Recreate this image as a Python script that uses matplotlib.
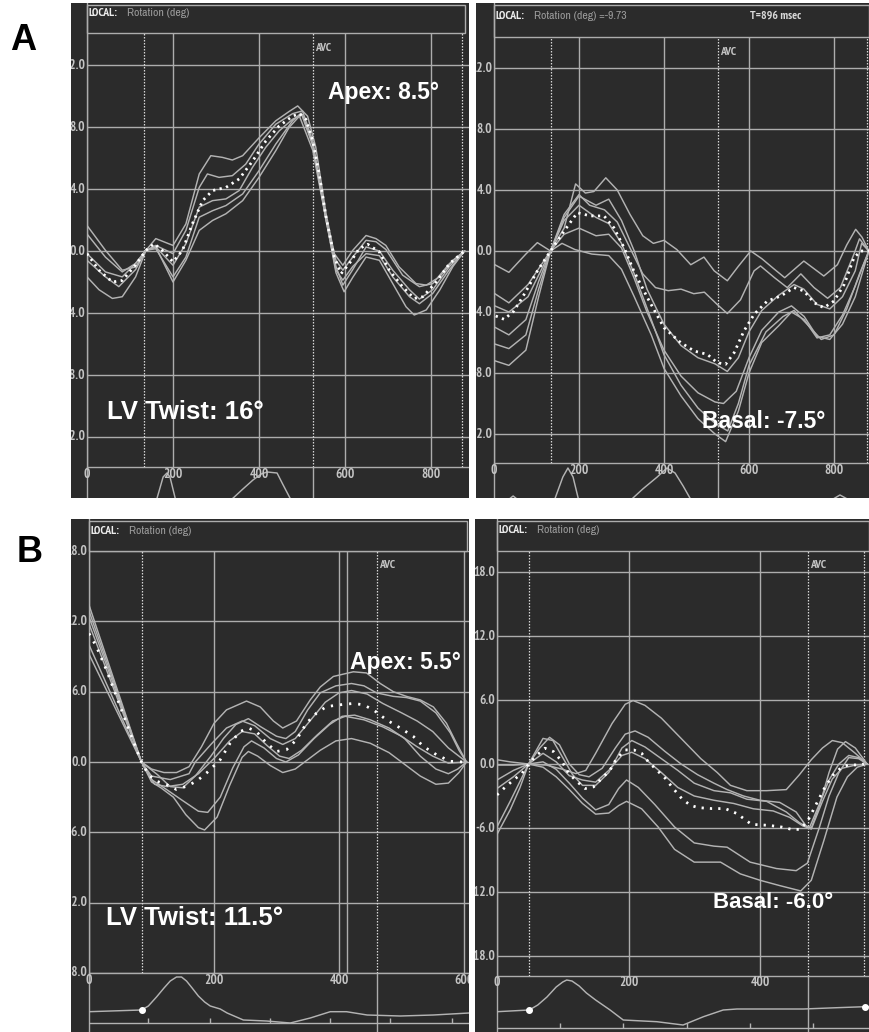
import os
import matplotlib
matplotlib.use("Agg")
import matplotlib.pyplot as plt
import matplotlib.transforms as mtransforms
from matplotlib import font_manager as fm
from matplotlib.font_manager import FontProperties
from matplotlib.patches import Rectangle

# ======================= DATA =======================
# ---- Panel A, left: apical rotation (deg) vs time (ms) ----
a1_avg_t = [0, 28, 59, 82, 113, 137, 156, 175, 200, 222, 245, 269, 292, 323, 354, 385, 416, 447, 478, 494,
            509, 525, 540, 556, 575, 591, 610, 633, 653, 680, 703, 734, 761, 781, 812, 843, 878]
a1_avg_v = [-0.17, -1.24, -2.0, -1.9, -0.9, 0.04, 0.47, 0.04, -0.7, 0.04, 1.75, 3.25, 3.9, 4.1, 4.65, 5.8, 7.1, 8.07, 8.7, 8.86,
            8.5, 7.1, 4.97, 2.18, -0.39, -1.46, -0.81, 0.15, 0.43, -0.06, -1.24, -2.31, -3.06, -2.95, -2.0, -0.81, 0]
a1_s1_t = [0, 43, 82, 113, 137, 160, 200, 230, 261, 288, 315, 338, 362, 400, 439, 470, 490, 513, 532, 556,
           575, 595, 618, 649, 672, 695, 726, 765, 789, 820, 851, 878]
a1_s1_v = [1.65, 0.04, -1.24, -1.03, 0.04, 0.8, 0.36, 1.75, 4.97, 6.15, 6.04, 5.87, 6.15, 7.3, 8.4, 9.0, 9.36, 8.7, 6.7, 2.4,
           -0.17, -0.92, 0.04, 1.0, 0.8, 0.36, -1.03, -2.1, -2.2, -1.67, -0.6, 0]
a1_s2_t = [0, 43, 82, 113, 137, 160, 200, 230, 261, 280, 307, 338, 369, 400, 439, 478, 501, 525, 556, 579,
           595, 618, 649, 672, 695, 734, 773, 804, 843, 878]
a1_s2_v = [1.1, -0.4, -1.35, -0.8, 0.04, 0.36, -0.17, 1.33, 4.1, 4.97, 4.75, 4.86, 5.6, 6.9, 8.18, 8.86, 9.04, 7.1, 2.0, -0.6,
           -1.24, -0.39, 0.69, 0.6, 0.1, -1.56, -2.3, -2.1, -0.81, 0]
a1_s3_t = [0, 43, 82, 113, 137, 160, 200, 230, 261, 292, 323, 354, 385, 416, 447, 478, 501, 525, 556, 579,
           595, 618, 649, 680, 711, 750, 773, 804, 843, 878]
a1_s3_v = [-0.17, -1.35, -1.67, -0.8, 0.04, 0.26, -0.92, 0.47, 2.83, 3.25, 3.36, 3.9, 5.4, 6.7, 7.75, 8.5, 8.8, 6.9, 2.0, -1.24,
           -1.88, -1.0, -0.17, -0.3, -1.67, -2.95, -3.4, -2.74, -1.2, 0]
a1_s4_t = [0, 28, 59, 82, 113, 137, 160, 200, 230, 261, 292, 323, 362, 400, 439, 470, 494, 525, 556, 579,
           598, 618, 649, 680, 711, 742, 761, 789, 820, 851, 878]
a1_s4_v = [-1.67, -2.5, -3.06, -2.95, -1.67, 0.04, 0.26, -2.0, -0.6, 1.33, 1.97, 2.4, 3.25, 4.75, 6.47, 7.97, 8.7, 6.5, 2.0, -1.4,
           -2.63, -1.7, -0.39, -0.6, -2.1, -3.6, -4.13, -3.8, -2.53, -1.0, 0]
a1_s5_t = [0, 43, 74, 113, 137, 160, 200, 230, 261, 292, 323, 362, 400, 439, 478, 498, 525, 556, 579, 595,
           618, 649, 680, 711, 750, 773, 804, 843, 878]
a1_s5_v = [-0.6, -1.67, -2.3, -1.2, 0.04, 0.15, -1.67, -0.39, 2.18, 2.6, 2.93, 3.68, 5.18, 6.9, 8.4, 8.9, 6.8, 2.1, -1.0, -2.2,
           -1.2, 0.26, 0.0, -1.24, -2.5, -3.1, -2.5, -1.0, 0]
a1_ecg_t = [0, 150, 163, 177, 186, 193, 205, 215, 300, 320, 340, 360, 386, 405, 419, 442, 455, 472, 490, 888]
a1_ecg_v = [-1, -1, 0, 2.1, 2.5, 2.1, 0, -1, -1, -0.6, 0, 0.8, 1.8, 2.4, 2.6, 2.5, 1.4, 0, -1, -1]
a1_events = [133, 525, 873]
a1_avc = 525

# ---- Panel A, right: basal rotation ----
a2_avg_t = [4, 24, 47, 71, 102, 133, 165, 196, 227, 259, 282, 306, 329, 361, 400, 439, 471, 502, 525, 545,
            565, 588, 612, 643, 675, 706, 729, 753, 776, 800, 824, 847, 863, 882]
a2_avg_v = [-4.26, -4.48, -3.93, -2.84, -1.31, 0, 1.31, 2.51, 2.3, 2.3, 1.53, 0.22, -1.31, -3.06, -5.03, -6.0, -6.56, -6.78, -7.32, -7.43,
            -6.67, -5.25, -4.15, -3.28, -2.95, -2.4, -2.62, -3.39, -3.72, -3.28, -2.19, -0.44, 0, 0]
a2_s1_t = [2, 35, 75, 102, 133, 165, 192, 215, 235, 263, 290, 320, 350, 375, 400, 430, 463, 494, 518, 549,
           575, 604, 630, 660, 684, 729, 776, 808, 830, 851, 866, 882]
a2_s1_v = [-0.9, -1.4, -0.2, 0.55, 0, 1.5, 4.4, 3.8, 3.9, 4.8, 4.0, 2.4, 1.0, 0.5, 0.7, 0.1, -0.9, -0.4, -1.3, -1.95,
           -1.0, 0, -0.5, -1.2, -1.75, -0.66, -1.64, -0.9, 0.4, 1.42, 0.9, 0]
a2_s2_t = [2, 35, 80, 133, 165, 200, 225, 260, 290, 320, 350, 380, 410, 440, 470, 495, 525, 549, 580, 612,
           627, 660, 690, 722, 753, 785, 815, 847, 860, 882]
a2_s2_v = [-2.8, -3.4, -2.2, 0, 2.4, 3.7, 3.0, 2.7, 1.9, 0.2, -1.5, -2.4, -2.6, -2.5, -2.8, -2.7, -3.5, -4.1, -3.2, -1.3,
           -0.98, -1.75, -2.4, -1.5, -2.4, -3.1, -2.4, -0.2, 0.8, 0]
a2_s3_t = [2, 35, 80, 133, 165, 200, 240, 270, 300, 330, 360, 400, 440, 480, 520, 549, 575, 600, 630, 670,
           706, 729, 760, 790, 820, 850, 865, 882]
a2_s3_v = [-3.6, -4.0, -3.0, 0, 2.2, 3.6, 3.0, 3.4, 2.0, 0, -2.5, -4.8, -6.2, -7.0, -7.4, -7.9, -7.0, -5.3, -3.9, -2.9,
           -2.2, -2.5, -3.5, -3.8, -3.0, -1.3, 0.5, 0]
a2_s4_t = [2, 35, 75, 105, 133, 165, 200, 240, 270, 300, 330, 360, 400, 440, 480, 520, 540, 570, 600, 630,
           670, 700, 730, 760, 790, 820, 850, 882]
a2_s4_v = [-6.1, -6.4, -5.5, -2.5, 0, 1.1, 1.5, 1.0, 1.1, 0.2, -1.8, -4.0, -6.5, -8.2, -9.3, -9.9, -10.0, -9.2, -7.0, -5.2,
           -4.0, -3.6, -4.3, -5.6, -5.8, -4.8, -3.0, 0]
a2_s5_t = [2, 35, 75, 105, 133, 160, 190, 230, 270, 300, 330, 370, 400, 440, 480, 520, 545, 575, 600, 630,
           670, 700, 730, 760, 790, 820, 850, 882]
a2_s5_v = [-7.2, -7.5, -6.5, -3.0, 0, 0.5, 0.1, -0.2, -0.3, -1.2, -3.0, -5.5, -7.7, -9.5, -11.0, -12.0, -12.5, -10.5, -8.0, -6.0,
           -4.9, -4.0, -4.5, -5.7, -5.5, -4.2, -2.3, 0]
a2_s6_t = [2, 35, 75, 105, 133, 165, 200, 240, 270, 300, 330, 370, 400, 440, 480, 520, 550, 575, 600, 640,
           680, 706, 740, 770, 800, 830, 860, 882]
a2_s6_v = [-5.0, -5.5, -4.5, -2.0, 0, 2.0, 3.0, 2.2, 1.8, 0.5, -1.5, -4.5, -6.8, -8.8, -10.3, -11.3, -11.8, -10.0, -7.5, -5.3,
           -4.3, -3.9, -4.9, -5.8, -5.5, -3.8, -1.5, 0]
a2_ecg_t = [0, 30, 45, 60, 130, 144, 162, 174, 186, 198, 215, 300, 327, 350, 384, 407, 426, 445, 461, 480, 790, 814, 840, 882]
a2_ecg_v = [-0.3, -0.3, 0.2, -0.3, -1, 0, 2.1, 3.0, 2.1, 0, -1, -1, 0, 0.9, 2.1, 3.0, 2.5, 1.2, 0, -1, -0.3, 0.3, -0.3, -0.3]
a2_events = [134, 526, 877]
a2_avc = 526

# ---- Panel B, left: apical rotation ----
b1_avg_t = [0, 12, 28, 44, 58, 71, 84, 95, 108, 124, 140, 156, 172, 188, 210, 226, 242, 255, 268, 284,
            300, 316, 332, 348, 364, 380, 401, 423, 439, 455, 476, 498, 519, 535, 556, 578, 599]
b1_avg_v = [10.97, 9.84, 7.85, 5.58, 3.6, 1.76, 0, -1.08, -1.64, -1.93, -2.35, -2.07, -1.64, -0.94, 0.2, 1.62, 2.6, 2.9, 2.6, 1.62,
            0.9, 1.05, 1.9, 3.32, 4.17, 4.73, 4.88, 5.0, 4.88, 4.45, 3.6, 2.9, 2.18, 1.33, 0.62, 0.06, 0]
b1_s1_t = [0, 84, 100, 120, 140, 160, 180, 200, 220, 252, 274, 295, 310, 332, 354, 370, 391, 423, 444, 466,
           487, 508, 530, 551, 572, 588, 604]
b1_s1_v = [13.4, 0, -0.6, -0.9, -0.9, -0.4, 1.3, 3.3, 4.45, 5.2, 4.7, 3.5, 2.9, 3.5, 5.3, 6.4, 7.3, 7.7, 7.6, 6.7,
           6.0, 5.6, 5.3, 4.7, 3.3, 1.6, 0]
b1_s2_t = [0, 84, 110, 130, 150, 170, 195, 215, 235, 255, 275, 300, 315, 330, 350, 370, 395, 420, 440, 460,
           487, 508, 530, 555, 578, 592, 604]
b1_s2_v = [12.9, 0, -1.1, -2.1, -2.2, -1.2, 0.5, 2.0, 3.2, 3.7, 3.0, 2.2, 2.0, 2.6, 4.45, 5.9, 6.5, 6.7, 6.5, 5.9,
           5.6, 5.5, 5.2, 4.2, 2.5, 1.0, 0]
b1_s3_t = [0, 84, 100, 120, 150, 175, 190, 210, 230, 248, 260, 280, 300, 315, 335, 360, 385, 405, 425, 450,
           480, 505, 530, 555, 575, 590, 604]
b1_s3_v = [11.8, 0, -1.5, -2.2, -3.3, -4.2, -4.3, -3.0, -0.5, 1.3, 1.8, 1.2, 0.3, 0, 0.6, 2.0, 3.2, 3.9, 4.0, 3.6,
           2.9, 2.0, 0.5, -0.6, -1.0, -0.6, 0]
b1_s4_t = [0, 84, 100, 115, 135, 155, 175, 185, 205, 225, 245, 255, 270, 290, 310, 330, 350, 370, 395, 420,
           450, 480, 505, 530, 555, 575, 592, 604]
b1_s4_v = [9.2, 0, -1.7, -2.2, -3.0, -4.5, -5.6, -5.8, -4.7, -2.0, 0.4, 0.9, 0.5, -0.3, -0.9, -0.6, 0.2, 1.0, 1.8, 2.0,
           1.6, 0.8, -0.2, -1.2, -1.9, -1.8, -0.9, 0]
b1_s5_t = [0, 84, 105, 125, 150, 175, 200, 225, 245, 265, 285, 305, 320, 340, 365, 390, 410, 440, 470, 500,
           525, 550, 575, 604]
b1_s5_v = [10.0, 0, -1.9, -2.1, -1.9, -1.0, 0.3, 1.8, 2.6, 2.4, 1.4, 0.5, 0.3, 1.0, 2.3, 3.5, 3.9, 3.6, 3.0, 2.2,
           1.3, 0.5, -0.1, 0]
b1_s6_t = [0, 84, 100, 130, 160, 170, 195, 220, 245, 265, 290, 310, 330, 355, 378, 400, 420, 445, 470, 500,
           525, 550, 575, 604]
b1_s6_v = [12.4, 0, -1.2, -1.5, -1.0, 0, 1.5, 2.9, 3.5, 3.1, 2.0, 1.5, 2.0, 3.6, 5.1, 5.9, 6.1, 5.8, 5.0, 4.2,
           3.5, 2.6, 1.2, 0]
b1_ecg_t = [0, 84, 95, 108, 120, 130, 140, 148, 156, 165, 175, 185, 194, 210, 221, 247, 284, 322, 354, 386,
            412, 445, 498, 551, 608]
b1_ecg_v = [0.03, 0.2, 0.6, 1.5, 2.4, 3.1, 3.5, 3.5, 3.1, 2.4, 1.6, 1.0, 0.6, 0.3, -0.1, -0.8, -0.9, -1.1, -0.6, 0.03,
            0.03, -0.3, -0.4, -0.3, -0.1]
b1_ecg_dot_t = [84]
b1_ecg_dot_v = [0.2]
b1_ecg_ticks = [95, 194, 290, 386, 482, 580]
b1_events = [84, 461]
b1_extra = [412]
b1_avc = 461

# ---- Panel B, right: basal rotation ----
b2_avg_t = [0, 13, 25, 38, 48, 61, 73, 86, 99, 109, 122, 134, 147, 157, 172, 182, 195, 208, 220, 230,
            243, 256, 268, 281, 294, 306, 327, 347, 365, 387, 413, 433, 448, 461, 473, 486, 499, 511, 524, 534,
            549, 558]
b2_avg_v = [-2.9, -2.14, -1.5, -0.88, 0, 0.85, 1.48, 1.16, 0.22, -0.88, -1.67, -2.3, -2.14, -1.5, -0.57, 0.53, 1.32, 1.32, 1.0, 0.22,
            -0.57, -1.35, -2.3, -3.24, -3.87, -4.09, -4.18, -4.18, -4.65, -5.66, -5.75, -5.91, -6.13, -6.13, -5.28, -3.71, -2.14, -1.04, -0.31, -0.09,
            -0.09, 0]
b2_s1_t = [0, 20, 48, 75, 100, 120, 135, 150, 175, 195, 207, 225, 250, 280, 310, 335, 355, 380, 410, 440,
           460, 478, 495, 510, 525, 545, 563]
b2_s1_v = [0.4, 0.2, 0, -0.1, -0.5, -0.9, -0.6, 1.0, 3.8, 5.6, 5.95, 5.5, 4.3, 2.4, 0.5, -0.8, -2.0, -2.5, -2.5, -2.4,
           -1.0, 0.4, 1.5, 2.2, 2.0, 1.0, 0]
b2_s2_t = [0, 25, 48, 65, 80, 95, 110, 125, 140, 160, 180, 195, 210, 230, 255, 280, 305, 330, 350, 375,
           400, 430, 455, 470, 478, 490, 505, 518, 530, 545, 563]
b2_s2_v = [-0.1, -0.1, 0, 1.5, 2.5, 1.8, 0, -1.0, -1.2, -0.4, 1.5, 2.8, 3.1, 2.5, 1.2, 0, -1.0, -1.8, -2.4, -3.0,
           -3.4, -3.6, -4.5, -5.8, -6.0, -4.0, -0.8, 1.4, 2.1, 1.5, 0]
b2_s3_t = [0, 25, 48, 70, 85, 100, 115, 130, 150, 170, 190, 205, 225, 250, 275, 300, 330, 355, 380, 410,
           440, 460, 475, 490, 505, 520, 535, 550, 563]
b2_s3_v = [-2.3, -1.2, 0, 2.4, 2.2, 0.6, -1.0, -2.0, -2.0, -0.8, 1.5, 2.2, 1.6, 0.5, -0.6, -1.8, -2.5, -2.7, -3.3, -3.5,
           -4.5, -5.5, -6.0, -3.8, -1.5, 0.0, 0.8, 0.6, 0]
b2_s4_t = [0, 20, 35, 48, 70, 90, 110, 130, 150, 170, 190, 205, 225, 250, 275, 300, 330, 360, 390, 420,
           445, 465, 478, 495, 510, 525, 545, 563]
b2_s4_v = [-6.6, -4.3, -2.2, 0, 1.0, 0.2, -1.1, -1.5, -1.7, -0.6, 0.8, 1.1, 0.5, -0.8, -2.2, -3.0, -3.4, -3.7, -4.2, -4.4,
           -5.0, -5.8, -6.1, -3.5, -1.4, -0.4, -0.1, 0]
b2_s5_t = [0, 20, 48, 70, 90, 110, 130, 150, 170, 185, 197, 215, 240, 270, 300, 330, 350, 385, 425, 455,
           472, 490, 505, 520, 535, 550, 563]
b2_s5_v = [-5.9, -3.5, 0, 0.2, -0.5, -1.8, -3.2, -4.3, -3.8, -2.3, -1.5, -2.2, -3.8, -5.9, -7.4, -7.7, -7.8, -9.2, -9.8, -10.0,
           -9.3, -6.0, -3.0, -0.8, 0.6, 0.5, 0]
b2_s6_t = [0, 25, 48, 70, 90, 110, 130, 150, 170, 185, 197, 220, 245, 270, 300, 340, 370, 400, 430, 462,
           478, 497, 517, 533, 548, 563]
b2_s6_v = [-1.5, -0.6, 0, -0.3, -1.2, -2.4, -3.7, -4.7, -4.6, -3.9, -3.5, -4.2, -5.9, -8.0, -9.2, -9.2, -10.3, -10.9, -11.4, -11.9,
           -10.9, -7.2, -3.1, -1.2, -0.3, 0]
b2_ecg_t = [0, 49, 62, 76, 90, 100, 106, 114, 125, 136, 150, 172, 192, 243, 283, 314, 344, 365, 415, 466, 517, 559, 566]
b2_ecg_v = [0.03, 0.2, 0.7, 1.5, 2.5, 3.0, 3.2, 3.1, 2.6, 1.9, 1.2, 0.2, -0.8, -0.97, -1.3, -0.47, 0.2, 0.3, 0.3, 0.3, 0.43, 0.53, 0.53]
b2_ecg_dot_t = [49, 559]
b2_ecg_dot_v = [0.2, 0.53]
b2_ecg_ticks = [96, 192, 289, 385, 481]
b2_events = [49, 473, 558]
b2_avc = 473

# tick values
a_yticks = [-12, -8, -4, 0, 4, 8, 12]
b_yticks = [-18, -12, -6, 0, 6, 12, 18]
a_xticks = [0, 200, 400, 600, 800]
b1_xticks = [0, 200, 400, 600]
b2_xticks = [0, 200, 400]

# ======================= FONTS =======================
_names = {f.name for f in fm.fontManager.ttflist}
SANS = [c for c in ["Liberation Sans"] if c in _names] + ["DejaVu Sans"]


def _weight_num(w):
    if isinstance(w, (int, float)):
        return int(w)
    return {"bold": 700, "normal": 400, "regular": 400, "medium": 500,
            "semibold": 600, "demibold": 600, "light": 300}.get(str(w).lower(), 400)


def pick_condensed(bold):
    best, best_score = None, None
    for f in fm.fontManager.ttflist:
        fn = os.path.basename(f.fname)
        low = fn.lower()
        nm = f.name
        is_cond = (f.stretch == "condensed" or "Narrow" in nm or "Condensed" in nm
                   or "narrow" in low or "condensed" in low)
        if not is_cond or f.style != "normal":
            continue
        if "italic" in low or "oblique" in low:
            continue
        if not low.endswith((".ttf", ".otf")):
            continue
        w = _weight_num(f.weight)
        score = abs(w - (700 if bold else 400)) / 100.0
        if "semicondensed" in low or "semi" in low:
            score += 3
        if "extracondensed" in low or "ultracondensed" in low or "extra" in low:
            score += 2
        if "narrow" in low:
            score -= 1
        if best_score is None or score < best_score:
            best, best_score = f.fname, score
    return best


_nb = pick_condensed(True)
_nr = pick_condensed(False)


def nfont(bold):
    path = _nb if bold else _nr
    if path:
        return dict(fontproperties=FontProperties(fname=path))
    return dict(family=SANS, weight="bold" if bold else "normal")


# ======================= DRAWING =======================
W, H = 869, 1032
fig = plt.figure(figsize=(W / 100, H / 100), dpi=100)
fig.patch.set_facecolor("white")

DARK = "#2b2b2b"
GRID = "#adadad"
CURVE = "#b3b3b3"
LABEL = "#c4c4c4"
TICK_FS = 9.5
HEAD_FS = 8.5


def px_axes(x0, y0, x1, y1):
    return fig.add_axes([x0 / W, 1 - y1 / H, (x1 - x0) / W, (y1 - y0) / H])


def bare(ax):
    ax.set_xticks([])
    ax.set_yticks([])
    for s in ax.spines.values():
        s.set_visible(False)


def clip_to(txt, pax):
    txt.set_clip_path(pax.patch)
    txt.set_clip_on(True)


def build(L, curves, avg, events, avc, xt, yt, ecg, notes, header,
          extra=(), dots=None, ecg_axis=None, dot_pat=(0.8, 1.6)):
    x0, y0, x1, y1 = L["panel"]
    left, top, right, bottom = L["plot"]

    # dark panel in pixel coordinates
    pax = px_axes(x0, y0, x1, y1)
    pax.set_facecolor(DARK)
    bare(pax)
    pax.set_xlim(x0, x1)
    pax.set_ylim(y1, y0)
    pax.add_patch(Rectangle((left, y0 + 1.5), L["head_r"] - left, top - y0 - 1.5,
                            fill=False, ec=GRID, lw=1.0))
    pax.plot([left, left], [y0, y1], color=GRID, lw=1.0)
    pax.plot([left, x1], [bottom, bottom], color=GRID, lw=1.0)
    prev = None
    for s, col, bold in header[0]:
        if prev is None:
            prev = pax.text(left + 1.5, L["head_y"], s, color=col, ha="left", va="center",
                            **nfont(bold), fontsize=HEAD_FS)
        else:
            prev = pax.annotate(s, xy=(1, 0.5), xycoords=prev, xytext=(7, 0),
                                textcoords="offset points", color=col,
                                ha="left", va="center", **nfont(bold), fontsize=HEAD_FS)
    for hx, s, col, bold in header[1]:
        pax.text(hx, L["head_y"], s, color=col, ha="left", va="center",
                 **nfont(bold), fontsize=HEAD_FS)

    # data axes
    ax = px_axes(left, top, right, bottom)
    ax.set_facecolor("none")
    t_lo = (left - L["t0"]) / L["kx"]
    t_hi = (right - L["t0"]) / L["kx"]
    ax.set_xlim(t_lo, t_hi)
    ax.set_ylim((L["zero"] - bottom) / L["ky"], (L["zero"] - top) / L["ky"])
    ax.set_xticks(xt)
    ax.set_yticks(yt)
    ax.tick_params(length=0, labelbottom=False, labelleft=False)
    for s in ax.spines.values():
        s.set_visible(False)
    ax.grid(True, color=GRID, lw=1.0)

    ytr = mtransforms.blended_transform_factory(pax.transData, ax.transData)
    for v in yt:
        t = ax.text(left - 1.5, v, f"{v:.1f}", transform=ytr, ha="right", va="center",
                    color=LABEL, **nfont(True), fontsize=TICK_FS)
        clip_to(t, pax)

    for e in events:
        ax.axvline(e, color="#d6d6d6", lw=0.9, ls=(0, (1.2, 1.2)))
    for e in extra:
        ax.axvline(e, color=GRID, lw=1.0)

    for ct, cv in curves:
        ax.plot(ct, cv, color=CURVE, lw=1.05, solid_joinstyle="round")
    ax.plot(avg[0], avg[1], color="white", lw=2.0, ls=(0, dot_pat))

    avtr = mtransforms.offset_copy(
        mtransforms.blended_transform_factory(ax.transData, pax.transData), fig=fig, x=2, y=0, units="dots")
    ax.text(avc, L["avc_y"], "AVC", transform=avtr, ha="left", va="center",
            color=LABEL, **nfont(True), fontsize=8.5)

    for nx, ny, s, fs in notes:
        ax.text(nx, ny, s, transform=pax.transData, color="white", fontsize=fs,
                family=SANS, weight="bold", ha="left", va="center")

    # ECG strip
    eax = px_axes(left, bottom, right, y1)
    eax.set_facecolor("none")
    bare(eax)
    eax.set_xlim(t_lo, t_hi)
    eax.set_ylim((L["ecg0"] - y1) / 10.0, (L["ecg0"] - bottom) / 10.0)
    eax.plot(ecg[0], ecg[1], color=CURVE, lw=1.05)
    eax.axvline(avc, color=GRID, lw=1.0)
    frac = (y1 - L["xlab_y"]) / (y1 - bottom)
    for x in xt:
        tt = eax.text(x, frac, str(x), transform=eax.get_xaxis_transform(), ha="center",
                      va="center", color=LABEL, **nfont(True), fontsize=TICK_FS)
        clip_to(tt, pax)
    if ecg_axis is not None:
        base, ticks = ecg_axis
        eax.axhline(base, color=CURVE, lw=1.0)
        eax.vlines(ticks, base, base + 0.5, color=CURVE, lw=1.0)
    if dots is not None:
        eax.scatter(dots[0], dots[1], s=16, color="white", zorder=5, clip_on=False)


LA1 = dict(panel=(71, 3, 469, 498), plot=(87, 33, 469, 467), head_r=465, head_y=13,
           t0=87, kx=0.43, zero=251, ky=15.5, ecg0=498, xlab_y=475, avc_y=48)
LA2 = dict(panel=(476, 3, 869, 498), plot=(494, 37, 869, 463), head_r=869, head_y=16,
           t0=494, kx=0.425, zero=251, ky=15.25, ecg0=498, xlab_y=470, avc_y=52)
LB1 = dict(panel=(71, 519, 469, 1032), plot=(89, 551, 469, 973), head_r=467, head_y=531,
           t0=89, kx=0.625, zero=762, ky=70.3 / 6, ecg0=1012, xlab_y=981, avc_y=565)
LB2 = dict(panel=(475, 519, 869, 1032), plot=(497, 551, 869, 976), head_r=869, head_y=530,
           t0=497, kx=0.6575, zero=764, ky=64 / 6, ecg0=1012, xlab_y=983, avc_y=565)

HEAD_LOCAL = ("LOCAL:", "#ececec", True)

build(LA1,
      [(a1_s1_t, a1_s1_v), (a1_s2_t, a1_s2_v), (a1_s3_t, a1_s3_v), (a1_s4_t, a1_s4_v), (a1_s5_t, a1_s5_v)],
      (a1_avg_t, a1_avg_v), a1_events, a1_avc, a_xticks, a_yticks, (a1_ecg_t, a1_ecg_v),
      [(328, 93, "Apex: 8.5°", 16.5), (107, 412, "LV Twist: 16°", 18.5)],
      ([HEAD_LOCAL, ("Rotation (deg)", "#9c9c9c", False)], []))

build(LA2,
      [(a2_s1_t, a2_s1_v), (a2_s2_t, a2_s2_v), (a2_s3_t, a2_s3_v), (a2_s4_t, a2_s4_v),
       (a2_s5_t, a2_s5_v), (a2_s6_t, a2_s6_v)],
      (a2_avg_t, a2_avg_v), a2_events, a2_avc, a_xticks, a_yticks, (a2_ecg_t, a2_ecg_v),
      [(702, 422, "Basal: -7.5°", 16.5)],
      ([HEAD_LOCAL, ("Rotation (deg) =-9.73", "#9c9c9c", False)],
       [(750, "T=896 msec", "#d8d8d8", True)]))

build(LB1,
      [(b1_s1_t, b1_s1_v), (b1_s2_t, b1_s2_v), (b1_s3_t, b1_s3_v), (b1_s4_t, b1_s4_v),
       (b1_s5_t, b1_s5_v), (b1_s6_t, b1_s6_v)],
      (b1_avg_t, b1_avg_v), b1_events, b1_avc, b1_xticks, b_yticks, (b1_ecg_t, b1_ecg_v),
      [(350, 662, "Apex: 5.5°", 16.5), (106, 918, "LV Twist: 11.5°", 18.5)],
      ([HEAD_LOCAL, ("Rotation (deg)", "#9c9c9c", False)], []),
      extra=b1_extra, dots=(b1_ecg_dot_t, b1_ecg_dot_v), ecg_axis=(-1.05, b1_ecg_ticks),
      dot_pat=(0.8, 2.5))

build(LB2,
      [(b2_s1_t, b2_s1_v), (b2_s2_t, b2_s2_v), (b2_s3_t, b2_s3_v), (b2_s4_t, b2_s4_v),
       (b2_s5_t, b2_s5_v), (b2_s6_t, b2_s6_v)],
      (b2_avg_t, b2_avg_v), b2_events, b2_avc, b2_xticks, b_yticks, (b2_ecg_t, b2_ecg_v),
      [(713, 902, "Basal: -6.0°", 16)],
      ([HEAD_LOCAL, ("Rotation (deg)", "#9c9c9c", False)], []),
      dots=(b2_ecg_dot_t, b2_ecg_dot_v), ecg_axis=(-1.6, b2_ecg_ticks),
      dot_pat=(0.8, 2.2))

fig.text(23 / W, 1 - 41 / H, "A", fontsize=26, weight="bold", family=SANS, ha="center", va="center")
fig.text(30 / W, 1 - 553 / H, "B", fontsize=26, weight="bold", family=SANS, ha="center", va="center")

fig.savefig("out.png", dpi=100, facecolor="white")
